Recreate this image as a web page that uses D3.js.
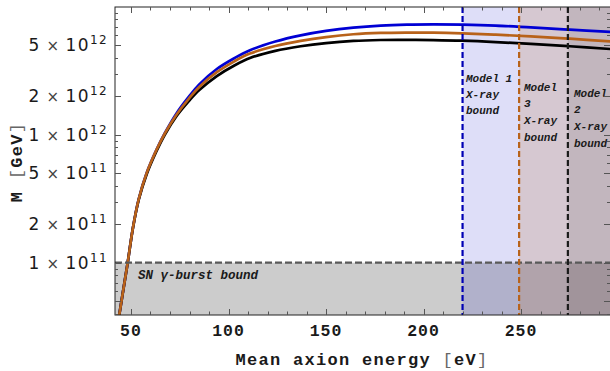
<!DOCTYPE html>
<html><head><meta charset="utf-8">
<script src="https://cdn.jsdelivr.net/npm/d3@7"></script>
<style>body{margin:0;background:#fff}svg{display:block}</style>
</head><body>
<svg id="c" width="610" height="371"></svg>
<script>
// ---- data ----
const energies = [43, 44, 46, 48.3, 51, 54, 58, 63, 67.4, 73.4, 80, 85, 94, 103, 111, 124, 137, 150, 164, 178, 191.5, 205, 220, 237, 255, 275, 296];
const seriesOrange = [3.16e10, 3.92e10, 6.07e10, 1.0e11, 1.88e11, 3.16e11, 5.01e11, 7.59e11, 1.03e12, 1.445e12, 1.95e12, 2.37e12, 3.09e12, 3.76e12, 4.32e12, 4.95e12, 5.43e12, 5.82e12, 6.12e12, 6.27e12, 6.31e12, 6.30e12, 6.22e12, 6.08e12, 5.89e12, 5.65e12, 5.38e12];
const seriesBlue   = [3.16e10, 3.92e10, 6.07e10, 1.0e11, 1.88e11, 3.16e11, 5.01e11, 7.59e11, 1.035e12, 1.479e12, 2.018e12, 2.483e12, 3.273e12, 3.98e12, 4.59e12, 5.37e12, 6.0e12, 6.50e12, 6.90e12, 7.16e12, 7.28e12, 7.31e12, 7.28e12, 7.16e12, 6.92e12, 6.65e12, 6.38e12];
const seriesBlack  = [3.16e10, 3.92e10, 6.07e10, 1.0e11, 1.87e11, 3.12e11, 4.90e11, 7.41e11, 1.007e12, 1.406e12, 1.862e12, 2.239e12, 2.884e12, 3.49e12, 3.99e12, 4.54e12, 4.93e12, 5.22e12, 5.43e12, 5.52e12, 5.53e12, 5.51e12, 5.45e12, 5.32e12, 5.14e12, 4.93e12, 4.69e12];
const snBound = 1e11;
const xrayBounds = [220, 249, 274];           // Model 1, Model 3, Model 2
const xrayLabels = [["Model 1","X-ray","bound"],["Model","3","X-ray","bound"],["Model","2","X-ray","bound"]];
const xTickValues = [50, 100, 150, 200, 250];
const yTickMant = [1, 2, 5, 1, 2, 5];
const yTickExp  = [11, 11, 11, 12, 12, 12];

// ---- layout ----
const L = 115, R = 610, T = 7, B = 315;
const x = d3.scaleLinear().domain([41.8, 295.6]).range([L, R]);
const y = d3.scaleLog().domain([3.9e10, 1e13]).range([B, T]);
const svg = d3.select("#c");
svg.append("defs").append("clipPath").attr("id","clip")
  .append("rect").attr("x",L).attr("y",T).attr("width",R-L).attr("height",B-T);
const g = svg.append("g").attr("clip-path","url(#clip)");

// SN band
g.append("rect").attr("x",L).attr("width",R-L)
  .attr("y",y(snBound)).attr("height",B-y(snBound)).attr("fill","#cccccc");
// X-ray bands
const bandCol = ["#0000cc","#b45f14","#000000"];
const bandOp = [0.13, 0.17, 0.09];
xrayBounds.forEach((b,i)=>{
  g.append("rect").attr("x",x(b)).attr("width",R-x(b)+5).attr("y",T).attr("height",B-T)
    .attr("fill",bandCol[i]).attr("fill-opacity",bandOp[i]);
});

// curves
const line = d3.line().x((d,i)=>x(energies[i])).y(d=>y(d)).curve(d3.curveCatmullRom.alpha(0.5));
[[seriesBlue,"#0000d4"],[seriesBlack,"#000000"],[seriesOrange,"#b8621a"]].forEach(([s,c])=>{
  g.append("path").attr("d",line(s)).attr("fill","none").attr("stroke",c).attr("stroke-width",2.7);
});

// dashed lines
g.append("line").attr("x1",L).attr("x2",R).attr("y1",y(snBound)).attr("y2",y(snBound))
  .attr("stroke","#595959").attr("stroke-width",2.2).attr("stroke-dasharray","7,3");
const dashCol = ["#0000b4","#b8621a","#1a1a1a"];
xrayBounds.forEach((b,i)=>{
  g.append("line").attr("x1",x(b)).attr("x2",x(b)).attr("y1",T).attr("y2",B)
    .attr("stroke",dashCol[i]).attr("stroke-width",2.2).attr("stroke-dasharray","6,3");
});

// labels
const lf = "'Liberation Mono','DejaVu Sans Mono',monospace";
g.append("text").attr("x",138).attr("y",279).attr("font-family",lf).attr("font-weight","bold")
  .attr("font-style","italic").attr("font-size",12.5).attr("fill","#1a1a1a").text("SN γ-burst bound");
const lblX = [466, 524, 574], lblY = [81.5, 90.5, 96.5], lblDy = [16, 16.8, 16.8];
xrayLabels.forEach((lines,i)=>{
  lines.forEach((t,j)=>{
    g.append("text").attr("x",lblX[i]).attr("y",lblY[i]+j*lblDy[i]).attr("font-family",lf)
      .attr("font-weight","bold").attr("font-style","italic").attr("font-size",11).attr("fill","#1a1a1a").text(t);
  });
});

// frame
const fr = svg.append("g");
fr.append("rect").attr("x",L).attr("y",T).attr("width",R-L+1).attr("height",B-T)
  .attr("fill","none").attr("stroke","#222").attr("stroke-width",1);
const tickCol = "#555";
// x ticks
for (let v=50; v<=290; v+=10) {
  const major = v%50===0, len = major?6:3.5, px = Math.round(x(v))+0.5;
  fr.append("line").attr("x1",px).attr("x2",px).attr("y1",B).attr("y2",B-len).attr("stroke",tickCol);
  fr.append("line").attr("x1",px).attr("x2",px).attr("y1",T).attr("y2",T+len).attr("stroke",tickCol);
}
// y ticks
for (let e=10; e<=12; e++) for (let m=1; m<=9; m++) {
  const v = m*Math.pow(10,e);
  if (v < 3.9e10 || v > 1e13) continue;
  const major = (m===1||m===2||m===5), len = major?6:3, py = Math.round(y(v))+0.5;
  fr.append("line").attr("x1",L).attr("x2",L+len).attr("y1",py).attr("y2",py).attr("stroke",tickCol);
  fr.append("line").attr("x1",R).attr("x2",R-len).attr("y1",py).attr("y2",py).attr("stroke",tickCol);
}
// x tick labels
xTickValues.forEach(v=>{
  svg.append("text").attr("x",x(v)).attr("y",336).attr("text-anchor","middle")
    .attr("font-family",lf).attr("font-weight","bold").attr("font-size",16.5)
    .attr("letter-spacing",1).attr("fill","#1a1a1a").text(v);
});
// y tick labels
yTickMant.forEach((m,i)=>{
  const v = m*Math.pow(10,yTickExp[i]);
  const t = svg.append("text").attr("x",108).attr("y",y(v)+6).attr("text-anchor","end")
    .attr("font-family","'DejaVu Sans',sans-serif").attr("font-size",17).attr("fill","#1a1a1a");
  t.append("tspan").text(m);
  t.append("tspan").attr("dx",6).attr("font-size",15).attr("fill","#444").text("×");
  t.append("tspan").attr("dx",5).text("10");
  t.append("tspan").attr("dy",-7).attr("font-size",12).text(yTickExp[i]);
  const w = t.node().getComputedTextLength();
  const target = 70;
  if (w > 0 && Math.abs(w - target) > 1) {
    t.attr("letter-spacing", (target - w) / 7);
  }
});
// axis titles
const xt = svg.append("text").attr("x",362).attr("y",365).attr("text-anchor","middle")
  .attr("font-family",lf).attr("font-weight","bold").attr("font-size",17).attr("letter-spacing",1.3).attr("fill","#1a1a1a");
xt.append("tspan").text("Mean axion energy ");
xt.append("tspan").attr("font-weight","normal").attr("fill","#666").text("[");
xt.append("tspan").text("eV");
xt.append("tspan").attr("font-weight","normal").attr("fill","#666").text("]");
const yt = svg.append("text").attr("transform","translate(22,162) rotate(-90)").attr("text-anchor","middle")
  .attr("font-family",lf).attr("font-weight","bold").attr("font-size",17).attr("letter-spacing",1.3).attr("fill","#1a1a1a");
yt.append("tspan").text("M ");
yt.append("tspan").attr("font-weight","normal").attr("fill","#666").text("[");
yt.append("tspan").text("GeV");
yt.append("tspan").attr("font-weight","normal").attr("fill","#666").text("]");
</script>
</body></html>
